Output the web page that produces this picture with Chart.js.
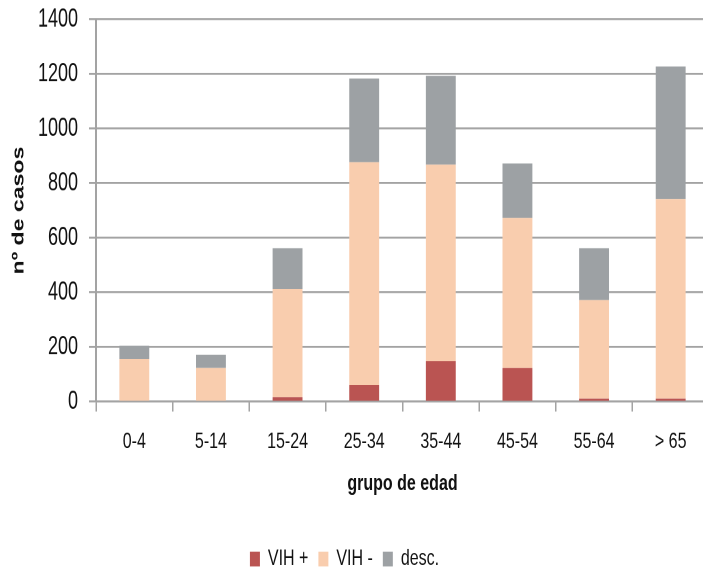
<!DOCTYPE html>
<html>
<head>
<meta charset="utf-8">
<script src="https://cdn.jsdelivr.net/npm/chart.js@4.4.0/dist/chart.umd.min.js"></script>
<style>
  html { overflow: hidden; }
  body { margin: 0; padding: 0; background: #fff; width: 703px; height: 572px; }
  /* the chart is drawn in a shorter box and stretched tall */
  #wrap { width: 712px; height: 409px; transform: scaleY(1.4); transform-origin: 0 0; }
</style>
</head>
<body>
<div id="wrap"><canvas id="myChart" width="712" height="409"></canvas></div>
<script>
// age groups and cases per HIV status
const ageGroups = ['0-4', '5-14', '15-24', '25-34', '35-44', '45-54', '55-64', '> 65'];
const vihPos = [0, 0, 17, 61, 148, 123, 11, 11];
const vihNeg = [156, 123, 395, 816, 720, 550, 361, 731];
const desc = [49, 49, 150, 306, 325, 199, 190, 485];

// y axis range
const yMin = 0;
const yMax = 1400;
const yStep = 200;

const axisGrey = '#A3A3A3';
const fontFam = "'Liberation Sans', Arial, sans-serif";

// pull the legend a bit to the left of centre
const legendShift = {
    id: 'legendShift',
    afterLayout(chart) {
        chart.legend.right -= 20;
    }
};

const ctx = document.getElementById('myChart');

new Chart(ctx, {
    type: 'bar',
    data: {
        labels: ageGroups,
        datasets: [
            { label: 'VIH +', data: vihPos, backgroundColor: '#BA5452' },
            { label: 'VIH -', data: vihNeg, backgroundColor: '#F9CDAE' },
            { label: 'desc.', data: desc, backgroundColor: '#9DA1A4' }
        ]
    },
    plugins: [legendShift],
    options: {
        responsive: false,
        devicePixelRatio: 2,
        animation: false,
        layout: { padding: { top: 13.8, right: 3, left: 0, bottom: -8.3 } },
        datasets: {
            bar: { categoryPercentage: 1, barPercentage: 0.39, borderWidth: 0 }
        },
        plugins: {
            tooltip: { enabled: false },
            legend: {
                position: 'bottom',
                labels: {
                    boxWidth: 10,
                    boxHeight: 10.7,
                    padding: 10,
                    color: '#111',
                    font: { family: fontFam, size: 16 }
                }
            }
        },
        scales: {
            x: {
                stacked: true,
                afterFit: (scale) => { scale.height = 94.4; },
                grid: {
                    display: true,
                    drawOnChartArea: false,
                    offset: true,
                    color: axisGrey,
                    lineWidth: 1.5,
                    tickLength: 7
                },
                border: { color: axisGrey, width: 1.4 },
                ticks: {
                    color: '#111',
                    padding: 12,
                    font: { family: fontFam, size: 16 }
                },
                title: {
                    display: true,
                    text: 'grupo de edad',
                    color: '#111',
                    padding: { top: 4, bottom: 26 },
                    font: { family: fontFam, size: 16, weight: 'bold' }
                }
            },
            y: {
                stacked: true,
                min: yMin,
                max: yMax,
                afterFit: (scale) => {
                    scale.width = 96;
                    scale.paddingTop = 0;
                    scale.paddingBottom = 0;
                },
                ticks: {
                    stepSize: yStep,
                    color: '#111',
                    padding: 11,
                    callback: (v) => String(v),
                    font: { family: fontFam, size: 18 }
                },
                grid: { color: axisGrey, lineWidth: 1.4, tickLength: 7 },
                border: { color: axisGrey, width: 2 },
                title: {
                    display: true,
                    text: 'nº de casos',
                    color: '#111',
                    padding: { top: 9, bottom: 0 },
                    font: { family: fontFam, size: 16.5, weight: 'bold' }
                }
            }
        }
    }
});
</script>
</body>
</html>
